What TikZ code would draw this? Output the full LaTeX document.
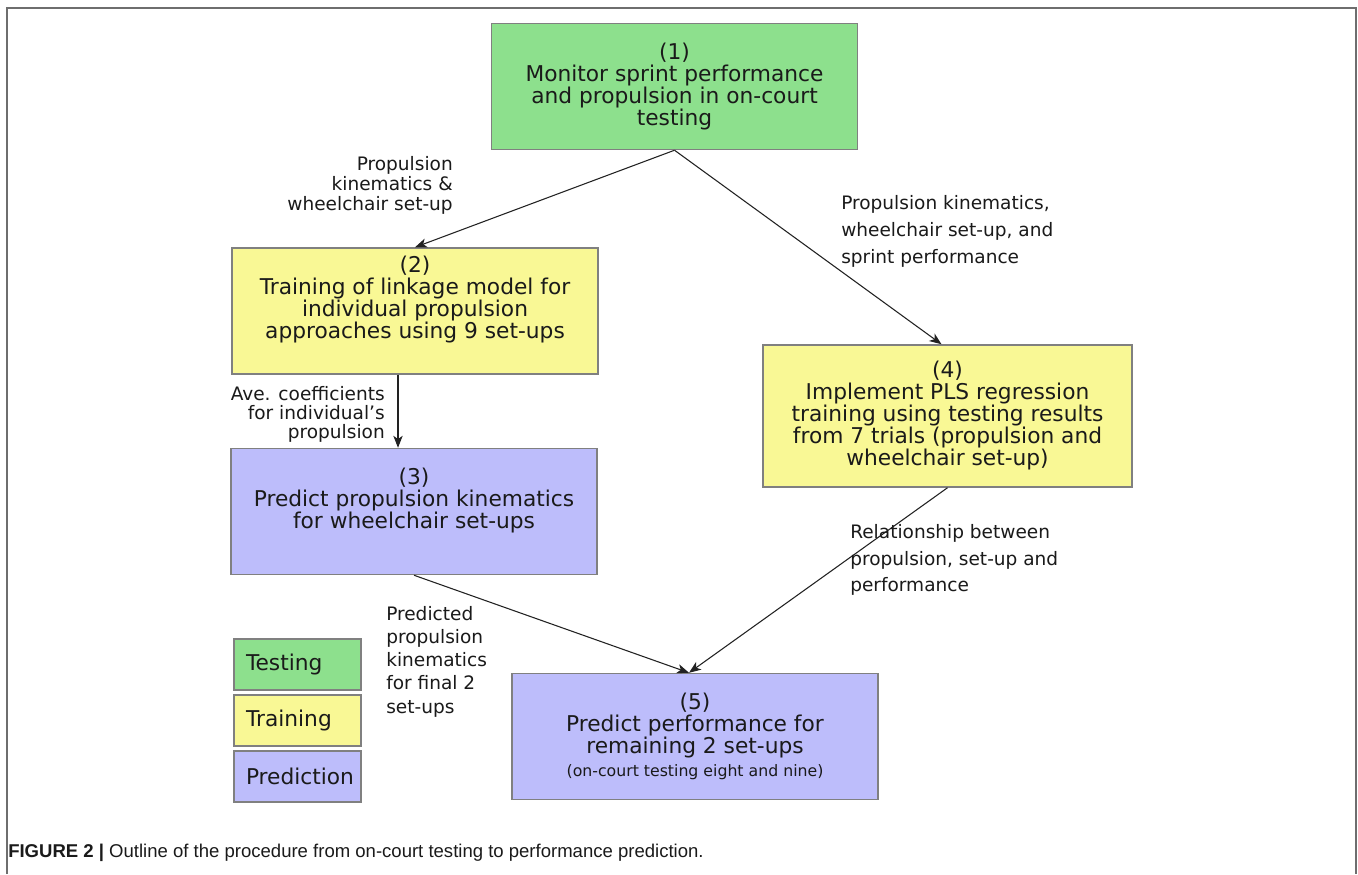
\documentclass[tikz,border=0pt]{standalone}
\usepackage{fontspec}
\setmainfont{DejaVu Sans}
\newfontfamily\capfont{Liberation Sans}
\usetikzlibrary{arrows.meta,calc}
\definecolor{tgreen}{HTML}{8DE08D}
\definecolor{tyellow}{HTML}{F9F895}
\definecolor{tblue}{HTML}{BDBDFB}
\definecolor{boxline}{HTML}{808080}
\definecolor{framecol}{HTML}{6E6E6E}
\definecolor{txt}{HTML}{1A1A1A}
\definecolor{arrowcol}{HTML}{222222}
\tikzset{
  box/.style={draw=boxline, line width=1.1pt, minimum width=274.5pt,
    minimum height=94.5pt, inner sep=0pt, align=center, text=txt,
    font=\fontsize{16.3}{16.5}\selectfont},
  legbox/.style={draw=boxline, line width=1.1pt, minimum width=95.25pt,
    minimum height=38.25pt, inner xsep=9pt, inner ysep=0pt, text width=77.25pt,
    align=left, text=txt, font=\fontsize{16.3}{16.5}\selectfont},
  lab/.style={inner sep=0pt, text=txt},
  arr/.style={-{Stealth[length=9pt,width=7pt,inset=2.5pt]}, line width=0.8pt, draw=arrowcol}
}
\begin{document}
\begin{tikzpicture}[x=0.75pt,y=-0.75pt]
\fill[white] (0,0) rectangle (1358,874);
\useasboundingbox (0,0) rectangle (1358,874);
\draw[framecol, line width=1.5pt] (7,874) -- (7,8) -- (1356,8) -- (1356,874);

% boxes
\node[box, fill=tgreen] (n1) at (674.5,86.5)
  {(1)\\Monitor sprint performance\\and propulsion in on-court\\testing};
\node[box, fill=tyellow] (n2) at (415,311)
  {(2)\\Training of linkage model for\\individual propulsion\\approaches using 9 set-ups\\[4pt]\mbox{}};
\node[box, fill=tblue] (n3) at (414,511.5)
  {(3)\\Predict propulsion kinematics\\for wheelchair set-ups\\[4pt]\mbox{}};
\node[box, fill=tyellow, minimum width=276.75pt, minimum height=106.5pt] (n4) at (947.5,416)
  {(4)\\Implement PLS regression\\training using testing results\\from 7 trials (propulsion and\\wheelchair set-up)};
\node[box, fill=tblue] (n5) at (695,736.5)
  {(5)\\Predict performance for\\remaining 2 set-ups\\[1pt]{\fontsize{11.8}{12}\selectfont (on-court testing eight and nine)}};

% legend
\node[legbox, fill=tgreen] (lg1) at (297.5,664.5) {Testing};
\node[legbox, fill=tyellow] (lg2) at (297.5,720.5) {Training};
\node[legbox, fill=tblue] (lg3) at (297.5,776.5) {Prediction};

% arrows
\draw[arr] (n1.south) -- (n2.north);
\draw[arr] (n1.south) -- ($(n4.north)+(-6,0)$);
\draw[arr] ($(n2.south)+(-17,0)$) -- ($(n3.north)+(-16,0)$);
\draw[arr] (n3.south) -- ($(n5.north)+(-6,0)$);
\draw[arr] (n4.south) -- ($(n5.north)+(-6,0)$);

% labels
\node[lab, anchor=north east, align=right, font=\fontsize{13.9}{15}\selectfont] (l1) at (453,156)
  {Propulsion\\kinematics \&\\wheelchair set-up};
\node[lab, anchor=north west, align=left, font=\fontsize{13.9}{20.25}\selectfont] (l2) at (841,195)
  {Propulsion kinematics,\\wheelchair set-up, and\\sprint performance};
\node[lab, anchor=north east, align=right, font=\fontsize{13.9}{14.25}\selectfont] (l3) at (385,386)
  {Ave. coefficients\\for individual's\\propulsion};
\node[lab, anchor=north west, align=left, font=\fontsize{13.9}{17.4}\selectfont] (l4) at (386,606)
  {Predicted\\propulsion\\kinematics\\for final 2\\set-ups};
\node[lab, anchor=north west, align=left, font=\fontsize{13.9}{20}\selectfont] (l5) at (850,524)
  {Relationship between\\propulsion, set-up and\\performance};

% caption
\node[anchor=base west, inner sep=0pt, text=txt, font=\capfont\fontsize{13.9}{16}\selectfont] (cap) at (8,857)
  {\textbf{FIGURE 2 |} Outline of the procedure from on-court testing to performance prediction.};
\end{tikzpicture}
\end{document}
